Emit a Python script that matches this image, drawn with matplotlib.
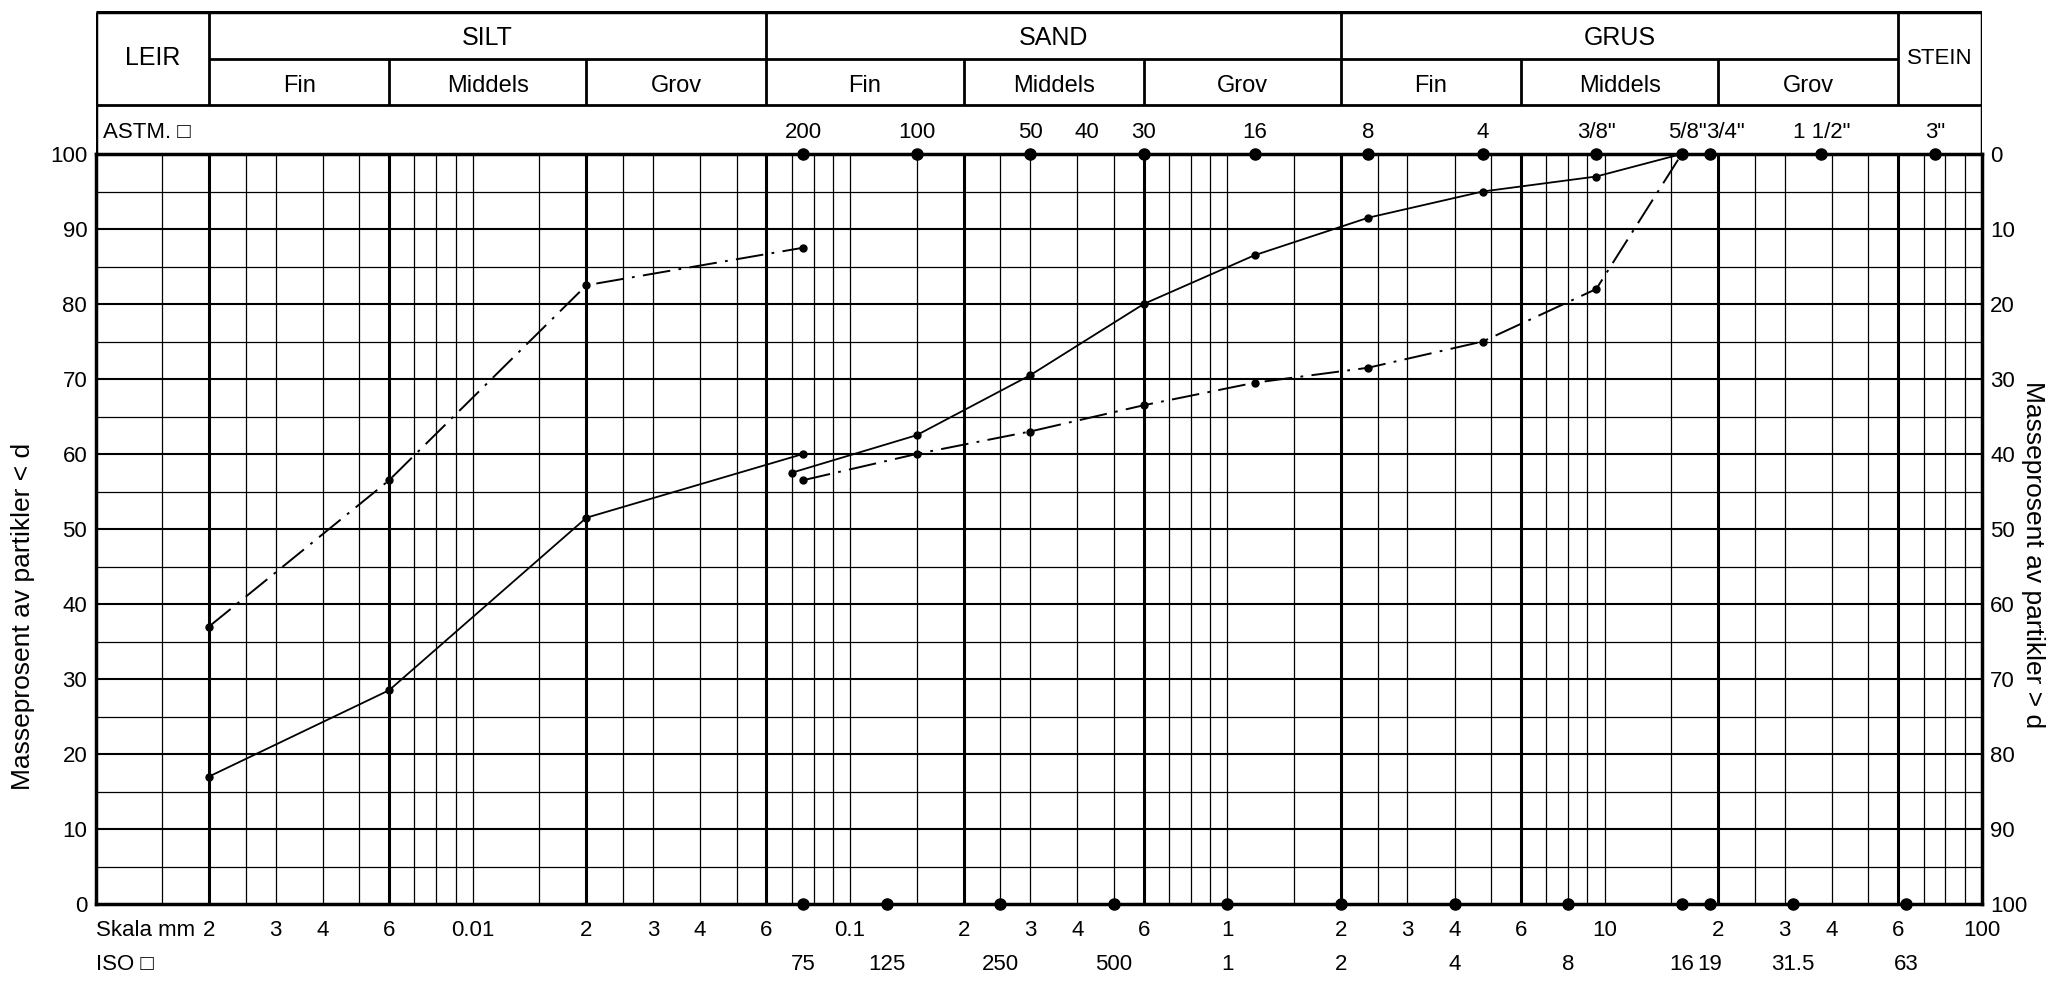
import numpy as np
import matplotlib.pyplot as plt
from matplotlib.transforms import blended_transform_factory

plt.rcParams['font.family'] = ['Liberation Sans', 'DejaVu Sans']
plt.rcParams['lines.scale_dashes'] = False

# grain size curves (diameter mm, percent passing)
solid_fine_d = [0.002, 0.006, 0.02, 0.075]
solid_fine_p = [17, 28.5, 51.5, 60]
solid_sieve_d = [0.07, 0.15, 0.3, 0.6, 1.18, 2.36, 4.75, 9.5, 16]
solid_sieve_p = [57.5, 62.5, 70.5, 80, 86.5, 91.5, 95, 97, 100]

dash_fine_d = [0.002, 0.006, 0.02, 0.075]
dash_fine_p = [37, 56.5, 82.5, 87.5]
dash_sieve_d = [0.075, 0.15, 0.3, 0.6, 1.18, 2.36, 4.75, 9.5, 16]
dash_sieve_p = [56.5, 60, 63, 66.5, 69.5, 71.5, 75, 82, 100]

# sieve series
astm_labels = ['200', '100', '50', '40', '30', '16', '8', '4', '3/8"', '5/8"', '3/4"', '1 1/2"', '3"']
astm_d = [0.075, 0.15, 0.3, 0.425, 0.6, 1.18, 2.36, 4.75, 9.5, 16, 19, 37.5, 75]
astm_dot = [1, 1, 1, 0, 1, 1, 1, 1, 1, 1, 1, 1, 1]

iso_labels = ['75', '125', '250', '500', '1', '2', '4', '8', '16', '19', '31.5', '63']
iso_d = [0.075, 0.125, 0.25, 0.5, 1, 2, 4, 8, 16, 19, 31.5, 63]

skala_d = [0.002, 0.003, 0.004, 0.006, 0.01, 0.02, 0.03, 0.04, 0.06, 0.1,
           0.2, 0.3, 0.4, 0.6, 1, 2, 3, 4, 6, 10, 20, 30, 40, 60, 100]
skala_labels = ['2', '3', '4', '6', '0.01', '2', '3', '4', '6', '0.1',
                '2', '3', '4', '6', '1', '2', '3', '4', '6', '10', '2', '3', '4', '6', '100']

# soil classes
main_names = ['LEIR', 'SILT', 'SAND', 'GRUS', 'STEIN']
main_bounds = [0.001, 0.002, 0.06, 2, 60, 100]
sub_names = ['Fin', 'Middels', 'Grov']
sub_bounds = [0.002, 0.006, 0.02, 0.06, 0.2, 0.6, 2, 6, 20, 60]

W, H = 2051, 981
left_px, right_px = 95.5, 1982
top_px, bot_px, head_px = 154, 904, 10.5
fs = 16

fig = plt.figure(figsize=(W / 100, H / 100), dpi=100)
ax = fig.add_axes([left_px / W, 1 - bot_px / H, (right_px - left_px) / W, (bot_px - top_px) / H])
ax.set_xscale('log')
ax.set_xlim(0.001, 100)
ax.set_ylim(0, 100)

# grid
mults = [1, 1.5, 2, 2.5, 3, 4, 5, 6, 7, 8, 9]
for k in range(-3, 2):
    for m in mults:
        v = m * 10.0 ** k
        if v <= 0.001 or v >= 100:
            continue
        heavy = any(abs(v / b - 1) < 1e-6 for b in sub_bounds)
        ax.axvline(v, color='black', lw=2.2 if heavy else 0.9, zorder=1)
for p in range(5, 100, 5):
    ax.axhline(p, color='black', lw=1.5 if p % 10 == 0 else 0.9, zorder=1)

for s in ax.spines.values():
    s.set_linewidth(2.5)

# curves
ax.plot(solid_fine_d, solid_fine_p, color='black', lw=1.3, marker='o', ms=5, zorder=3)
ax.plot(solid_sieve_d, solid_sieve_p, color='black', lw=1.3, marker='o', ms=5, zorder=3)
dd = (0, (20, 6, 2, 6))
ax.plot(dash_fine_d, dash_fine_p, color='black', lw=1.4, ls=dd, marker='o', ms=5, zorder=3)
ax.plot(dash_sieve_d, dash_sieve_p, color='black', lw=1.4, ls=dd, marker='o', ms=5, zorder=3)

# sieve dots
for d, show in zip(astm_d, astm_dot):
    if show:
        ax.plot(d, 100, 'o', color='black', ms=8, clip_on=False, zorder=4)
ax.plot(iso_d, [0] * len(iso_d), 'o', color='black', ms=8, clip_on=False, zorder=4)

# y axes
ticks = list(range(0, 101, 10))
ax.set_yticks(ticks)
ax.set_yticklabels([str(t) for t in ticks], fontsize=fs)
ax.tick_params(axis='y', length=0, pad=6)
ax.set_xticks([])
ax.xaxis.set_minor_locator(plt.NullLocator())

ax2 = ax.twinx()
ax2.set_ylim(0, 100)
ax2.set_yticks(ticks)
ax2.set_yticklabels([str(100 - t) for t in ticks], fontsize=fs)
ax2.tick_params(axis='y', length=0, pad=6)
for s in ax2.spines.values():
    s.set_visible(False)

fig.text(0.011, 0.372, 'Masseprosent av partikler < d', rotation=90,
         ha='center', va='center', fontsize=19)
fig.text(0.991, 0.435, 'Masseprosent av partikler > d', rotation=270,
         ha='center', va='center', fontsize=19)

# bottom / top labels
tr = blended_transform_factory(ax.transData, ax.transAxes)
y_sk = -(931 - bot_px) / (bot_px - top_px)
y_iso = -(965 - bot_px) / (bot_px - top_px)
y_astm = (bot_px - 133) / (bot_px - top_px)
for d, lab in zip(skala_d, skala_labels):
    ax.text(d, y_sk, lab, transform=tr, ha='center', va='center', fontsize=fs)
for d, lab in zip(iso_d, iso_labels):
    ax.text(d, y_iso, lab, transform=tr, ha='center', va='center', fontsize=fs)
for d, lab in zip(astm_d, astm_labels):
    ha = 'center'
    if lab == '5/8"':
        ha = 'right'
        d = 18.6
    elif lab == '3/4"':
        ha = 'left'
        d = 18.6
    ax.text(d, y_astm, lab, transform=tr, ha=ha, va='center', fontsize=fs)
ax.text(0.0, y_sk, 'Skala mm', transform=ax.transAxes, ha='left', va='center', fontsize=fs)
ax.text(0.0, y_iso, 'ISO \u25a1', transform=ax.transAxes, ha='left', va='center', fontsize=fs)
ax.text(0.004, y_astm, 'ASTM. \u25a1', transform=ax.transAxes, ha='left', va='center', fontsize=fs)

# header table
hax = fig.add_axes([left_px / W, 1 - top_px / H, (right_px - left_px) / W, (top_px - head_px) / H])
hax.set_xscale('log')
hax.set_xlim(0.001, 100)
hax.set_ylim(top_px, head_px)
hax.axis('off')
row1, row2 = 59, 105
lw_h = 2.0
hax.hlines(head_px + 1, 0.001, 100, color='black', lw=2.5)
hax.hlines(row1, 0.002, 60, color='black', lw=lw_h)
hax.hlines(row2, 0.001, 100, color='black', lw=lw_h)
hax.vlines([0.001, 100], head_px + 1, top_px, color='black', lw=2.5)
hax.vlines(main_bounds[1:-1], head_px + 1, row2, color='black', lw=lw_h)
hax.vlines([0.006, 0.02, 0.2, 0.6, 6, 20], row1, row2, color='black', lw=lw_h)

for i, name in enumerate(main_names):
    xc = np.sqrt(main_bounds[i] * main_bounds[i + 1])
    if name == 'LEIR':
        hax.text(xc, 58, name, ha='center', va='center', fontsize=18)
    elif name == 'STEIN':
        hax.text(xc, 58, name, ha='center', va='center', fontsize=16)
    else:
        hax.text(xc, 38, name, ha='center', va='center', fontsize=18)
for i in range(9):
    xc = np.sqrt(sub_bounds[i] * sub_bounds[i + 1])
    hax.text(xc, 86, sub_names[i % 3], ha='center', va='center', fontsize=17)

fig.savefig('out.png', dpi=100)
